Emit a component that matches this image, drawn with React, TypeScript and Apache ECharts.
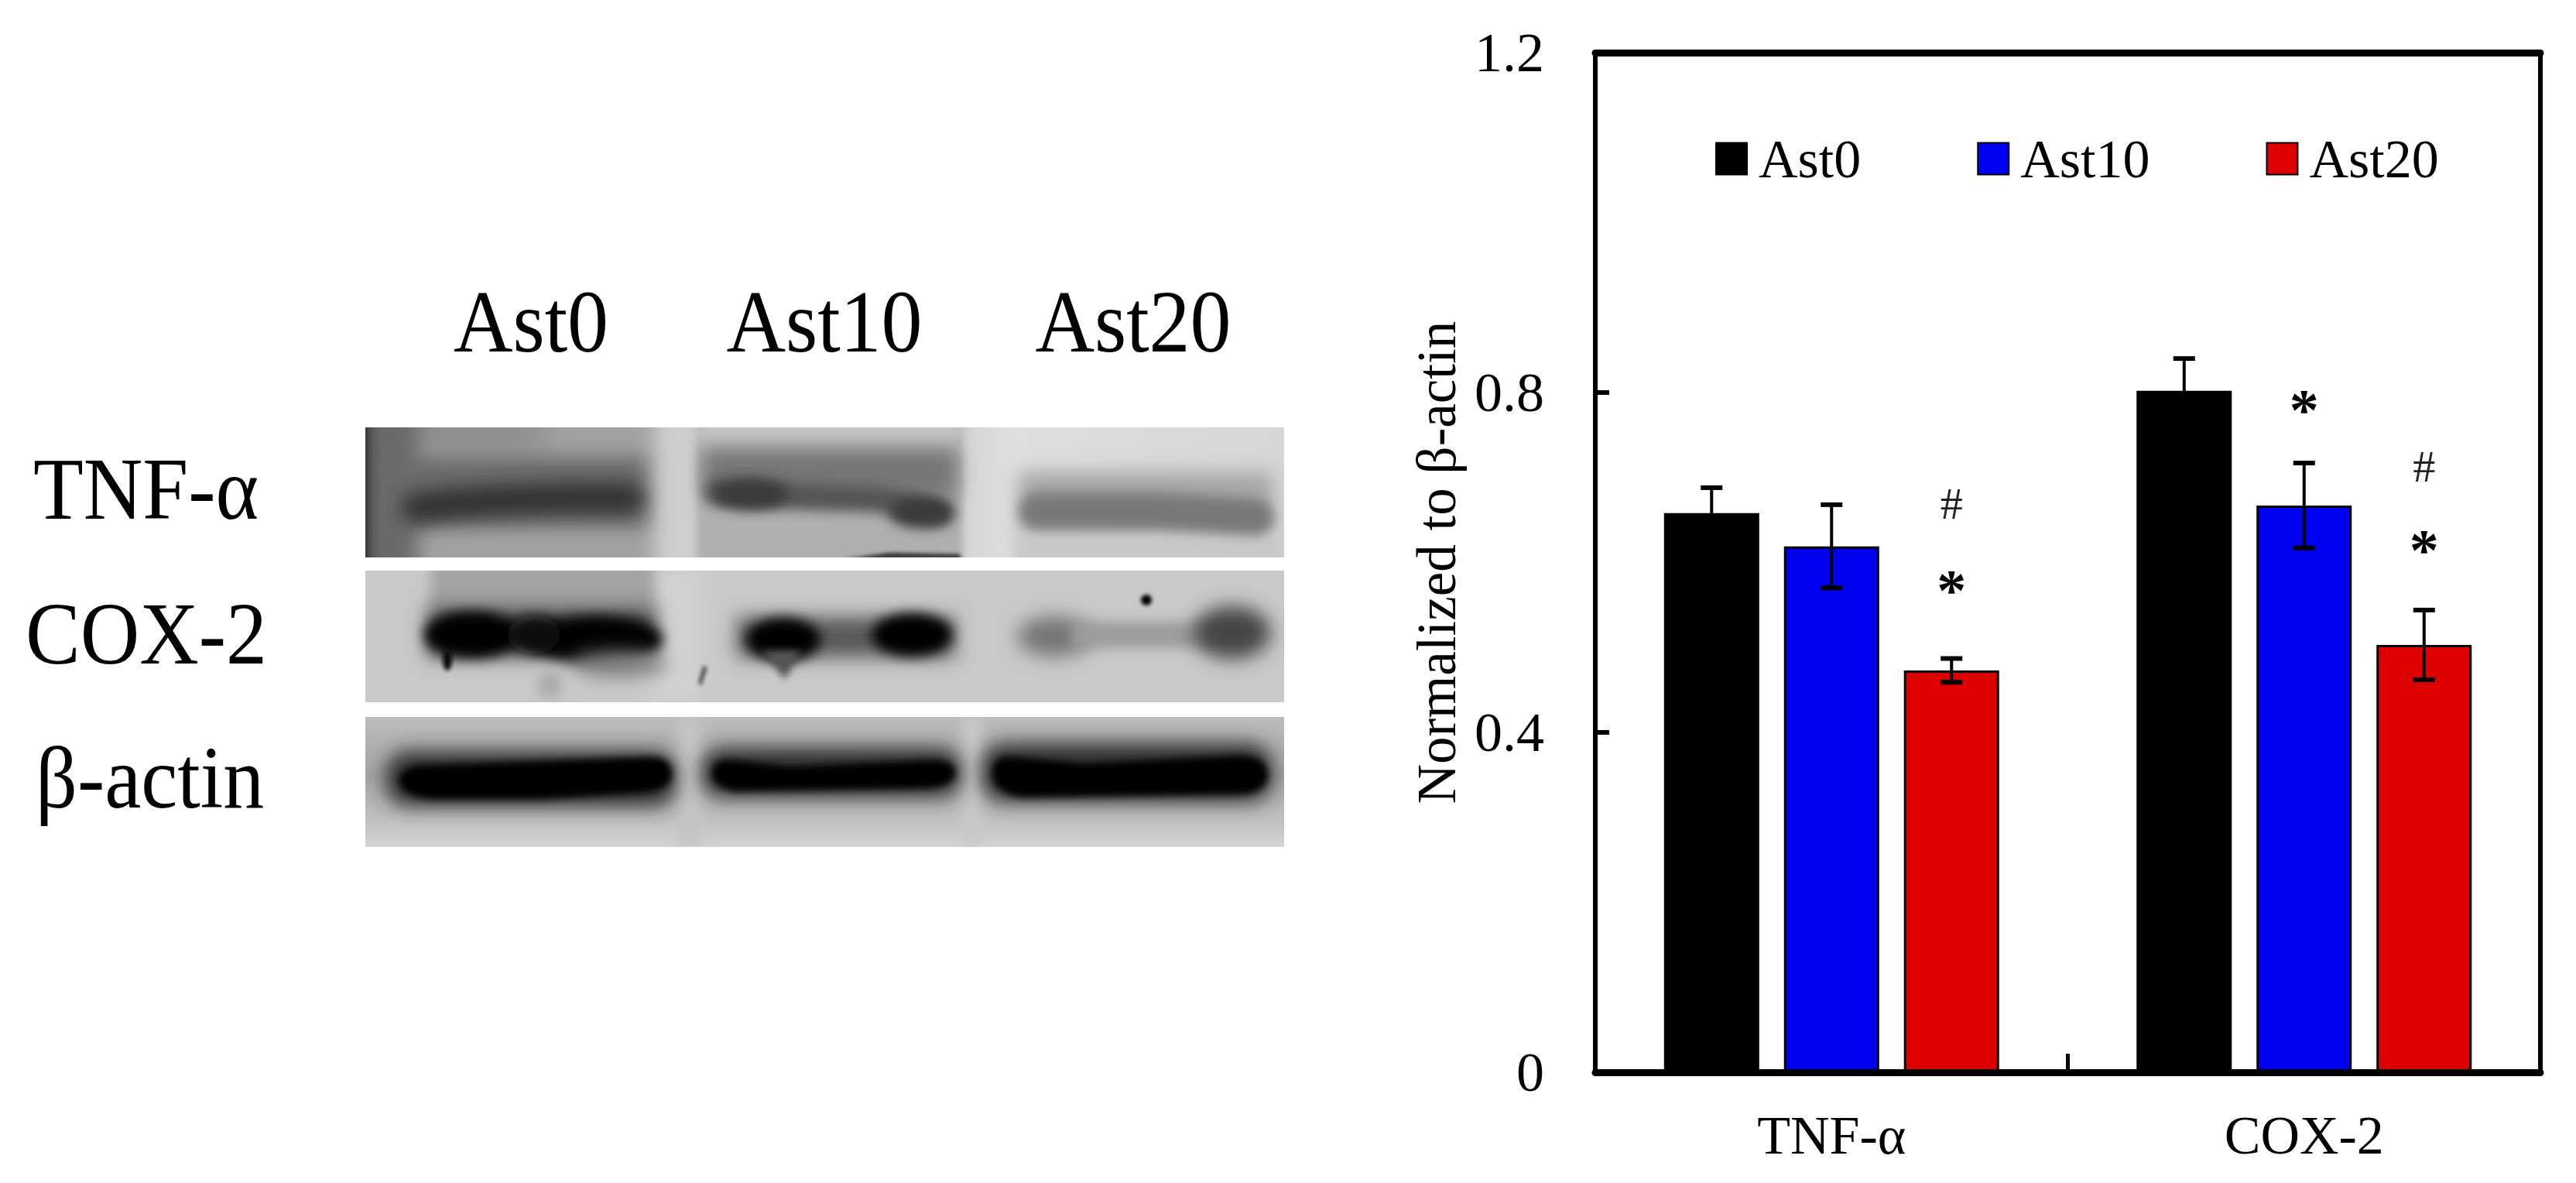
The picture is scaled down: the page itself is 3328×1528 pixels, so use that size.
import React, { useEffect, useRef } from "react";
import * as echarts from "echarts";

const categories = ["TNF-α", "COX-2"];
const seriesNames = ["Ast0", "Ast10", "Ast20"];
const seriesColors = ["#000000", "#0000f0", "#dc0000"];
const ast0Values = [0.658, 0.802];
const ast10Values = [0.619, 0.667];
const ast20Values = [0.473, 0.503];
const ast0Errors = [0.03, 0.038];
const ast10Errors = [0.049, 0.05];
const ast20Errors = [0.014, 0.041];
const yTickLabels = ["0", "0.4", "0.8", "1.2"];
const blotLanes = ["Ast0", "Ast10", "Ast20"];
const blotProteins = ["TNF-α", "COX-2", "β-actin"];
const significance: [number, number, string][] = [
  [0, 0.669, "#"],
  [0, 0.579, "*"],
  [1, 0.791, "*"],
  [1, 0.713, "#"],
  [1, 0.626, "*"],
];

const FONT = '"Liberation Serif", "Times New Roman", serif';
const allValues = [ast0Values, ast10Values, ast20Values];
const allErrors = [ast0Errors, ast10Errors, ast20Errors];

const blur = (id: string, s: number) =>
  `<filter id="${id}" filterUnits="userSpaceOnUse" x="300" y="400" width="1500" height="800"><feGaussianBlur stdDeviation="${s}"/></filter>`;

const blotSvg = `<svg xmlns="http://www.w3.org/2000/svg" width="1187" height="542" viewBox="472 552 1187 542">
<defs>
${blur("b2", 2.5)}${blur("b5", 5)}${blur("b8", 8)}${blur("b12", 12)}${blur("b20", 20)}
<clipPath id="p1"><rect x="472" y="552" width="1187" height="168"/></clipPath>
<clipPath id="p2"><rect x="472" y="737" width="1187" height="170"/></clipPath>
<clipPath id="p3"><rect x="472" y="926" width="1187" height="168"/></clipPath>
<linearGradient id="g3" x1="0" y1="0" x2="0" y2="1"><stop offset="0" stop-color="#bcbcbc"/><stop offset="0.45" stop-color="#a4a4a4"/><stop offset="0.75" stop-color="#bdbdbd"/><stop offset="1" stop-color="#d4d4d4"/></linearGradient>
<linearGradient id="g1" x1="0" y1="0" x2="1" y2="0"><stop offset="0" stop-color="#cacaca"/><stop offset="0.64" stop-color="#d2d2d2"/><stop offset="0.7" stop-color="#dedede"/><stop offset="1" stop-color="#d6d6d6"/></linearGradient>
</defs>
<g clip-path="url(#p1)">
<rect x="472" y="552" width="1187" height="168" fill="url(#g1)"/>
<rect x="430" y="520" width="415" height="230" fill="#a2a2a2" filter="url(#b12)"/>
<rect x="440" y="530" width="260" height="50" fill="#8a8a8a" filter="url(#b20)"/>
<rect x="430" y="510" width="110" height="240" fill="#6a6a6a" filter="url(#b12)"/>
<rect x="430" y="510" width="46" height="240" fill="#222222" filter="url(#b8)"/>
<rect x="510" y="590" width="325" height="90" fill="#6c6c6c" filter="url(#b12)"/>
<path d="M538 656Q640 642 812 644" fill="none" stroke="#333" stroke-width="40" stroke-linecap="round" filter="url(#b12)"/>
<rect x="900" y="520" width="344" height="230" fill="#b0b0b0" filter="url(#b5)"/>
<rect x="900" y="520" width="344" height="52" fill="#c8c8c8" filter="url(#b12)"/>
<rect x="908" y="580" width="328" height="62" fill="#767676" filter="url(#b12)"/>
<path d="M928 636Q1040 642 1125 644Q1180 650 1212 662" fill="none" stroke="#555" stroke-width="34" stroke-linecap="round" filter="url(#b8)"/>
<ellipse cx="970" cy="638" rx="48" ry="20" fill="#3a3a3a" filter="url(#b8)"/>
<ellipse cx="1190" cy="662" rx="42" ry="20" fill="#3a3a3a" filter="url(#b8)"/>
<path d="M1090 722L1150 714L1240 716L1242 722Z" fill="#2e2e2e" filter="url(#b2)"/>
<rect x="1316" y="610" width="328" height="80" fill="#a6a6a6" filter="url(#b12)"/>
<rect x="1310" y="690" width="349" height="40" fill="#c8c8c8" filter="url(#b8)"/>
<path d="M1340 660L1500 660L1622 668" fill="none" stroke="#787878" stroke-width="46" stroke-linecap="round" filter="url(#b8)"/>
</g>
<g clip-path="url(#p2)">
<rect x="472" y="737" width="1187" height="170" fill="#c9c9c9"/>
<rect x="840" y="737" width="65" height="170" fill="#d2d2d2" filter="url(#b12)"/>
<rect x="556" y="720" width="290" height="62" fill="#a4a4a4" filter="url(#b8)"/>
<rect x="552" y="783" width="296" height="66" fill="#484848" filter="url(#b12)"/>
<ellipse cx="610" cy="820" rx="62" ry="30" fill="#000" filter="url(#b8)"/>
<ellipse cx="770" cy="826" rx="86" ry="30" fill="#000" filter="url(#b8)"/>
<ellipse cx="690" cy="820" rx="34" ry="24" fill="#111" filter="url(#b8)"/>
<ellipse cx="578" cy="852" rx="6" ry="14" fill="#111" filter="url(#b2)"/>
<ellipse cx="800" cy="858" rx="62" ry="16" fill="#808080" filter="url(#b12)"/>
<ellipse cx="710" cy="885" rx="16" ry="18" fill="#aaa" filter="url(#b8)"/>
<path d="M902 882L908 860L914 862L906 886Z" fill="#555" filter="url(#b2)"/>
<rect x="952" y="797" width="282" height="52" fill="#585858" filter="url(#b12)"/>
<ellipse cx="1012" cy="826" rx="48" ry="28" fill="#000" filter="url(#b8)"/>
<ellipse cx="1178" cy="820" rx="52" ry="28" fill="#000" filter="url(#b8)"/>
<path d="M985 840L1035 840L1014 878Z" fill="#555" filter="url(#b5)"/>
<ellipse cx="1362" cy="822" rx="48" ry="26" fill="#747474" filter="url(#b12)"/>
<rect x="1385" y="803" width="190" height="34" fill="#9c9c9c" filter="url(#b8)"/>
<ellipse cx="1592" cy="817" rx="50" ry="34" fill="#444" filter="url(#b12)"/>
<circle cx="1481" cy="775" r="7" fill="#000" filter="url(#b2)"/>
</g>
<g clip-path="url(#p3)">
<rect x="472" y="926" width="1187" height="168" fill="url(#g3)"/>
<rect x="875" y="926" width="32" height="168" fill="#c4c4c4" filter="url(#b8)"/>
<rect x="1243" y="926" width="26" height="168" fill="#c8c8c8" filter="url(#b8)"/>
<rect x="498" y="970" width="376" height="72" rx="30" fill="#303030" filter="url(#b12)"/>
<rect x="906" y="966" width="336" height="64" rx="28" fill="#303030" filter="url(#b12)"/>
<rect x="1268" y="960" width="376" height="76" rx="30" fill="#303030" filter="url(#b12)"/>
<path d="M515 1008Q520 986 560 988L840 978Q868 978 868 1000Q868 1020 830 1024L700 1032L560 1032Q520 1030 515 1008Z" fill="#000" filter="url(#b5)"/>
<path d="M920 1000Q920 978 950 982L1020 990L1200 982Q1232 980 1234 998Q1234 1014 1200 1018L950 1022Q920 1016 920 1000Z" fill="#000" filter="url(#b5)"/>
<path d="M1282 1000Q1282 974 1310 978L1400 986L1600 976Q1636 976 1638 1000Q1638 1024 1600 1026L1320 1030Q1284 1024 1282 1000Z" fill="#000" filter="url(#b5)"/>
</g>
</svg>`;
const blotUri = "data:image/svg+xml;charset=utf-8," + encodeURIComponent(blotSvg);

function buildOption() {
  const textG = (text: string, x: number, baseline: number, align: string) => ({
    type: "text",
    silent: true,
    x,
    y: baseline,
    scaleY: 1.07,
    style: { text, x: 0, y: -93, align, verticalAlign: "top", font: `106px ${FONT}`, fill: "#000" },
  });
  const laneX = [686, 1065, 1464];
  const proteinBase = [675, 862, 1048];
  const proteinX = [43, 33, 46];
  const bars = seriesNames.map((name, i) => ({
    name,
    type: "bar",
    barWidth: 123,
    barGap: "26%",
    data: allValues[i],
    z: 2,
    itemStyle: { color: seriesColors[i], borderColor: "#000", borderWidth: 3 },
  }));
  const errors = seriesNames.map((name, i) => ({
    name: name + " error",
    type: "custom",
    z: 3,
    encode: { x: 0, y: [1, 2] },
    data: allValues[i].map((v, c) => [c, v - allErrors[i][c], v + allErrors[i][c]]),
    renderItem: (_: any, api: any) => {
      const offset = (i - 1) * 155;
      const lo = api.coord([api.value(0), api.value(1)]);
      const hi = api.coord([api.value(0), api.value(2)]);
      const x = lo[0] + offset;
      const cap = 14;
      const stem = { stroke: "#000", lineWidth: 4 };
      const capStyle = { stroke: "#000", lineWidth: 6 };
      return {
        type: "group",
        children: [
          { type: "line", shape: { x1: x, y1: lo[1], x2: x, y2: hi[1] }, style: stem },
          { type: "line", shape: { x1: x - cap, y1: hi[1], x2: x + cap, y2: hi[1] }, style: capStyle },
          { type: "line", shape: { x1: x - cap, y1: lo[1], x2: x + cap, y2: lo[1] }, style: capStyle },
        ],
      };
    },
  }));
  const marks = {
    name: "significance",
    type: "custom",
    z: 4,
    encode: { x: 0, y: 1 },
    data: significance.map((s) => [s[0], s[1], s[2]]),
    renderItem: (params: any, api: any) => {
      const row = significance[params.dataIndex];
      const p = api.coord([row[0], row[1]]);
      const isStar = row[2] === "*";
      const seriesOffset = row[0] === 1 && row[1] > 0.75 ? 0 : 155;
      return {
        type: "text",
        style: {
          text: row[2],
          x: p[0] + seriesOffset,
          y: isStar ? p[1] + 12 : p[1],
          align: "center",
          verticalAlign: "middle",
          font: isStar ? `bold 76px ${FONT}` : `58px ${FONT}`,
          fill: isStar ? "#000" : "#222",
        },
      };
    },
  };
  return {
    animation: false,
    backgroundColor: "#fff",
    textStyle: { fontFamily: FONT },
    grid: { show: true, borderColor: "#000", borderWidth: 6, backgroundColor: "transparent", left: 2061, top: 68, right: 46, bottom: 143 },
    legend: {
      show: true,
      data: seriesNames,
      left: 2211,
      top: 165,
      itemWidth: 40,
      itemHeight: 41,
      itemGap: 150,
      icon: "rect",
      selectedMode: false,
      textStyle: { fontFamily: FONT, fontSize: 70, color: "#000", padding: [0, 0, 0, 10] },
    },
    xAxis: [
      {
        type: "category",
        data: categories,
        position: "bottom",
        z: 5,
        axisLine: { show: true, lineStyle: { color: "#000", width: 9 } },
        axisTick: { show: true, inside: true, length: 24, lineStyle: { color: "#000", width: 5 } },
        axisLabel: { fontFamily: FONT, fontSize: 70, color: "#000", margin: 46 },
      },
      {
        type: "category",
        data: categories,
        position: "top",
        z: 5,
        axisLine: { show: true, onZero: false, lineStyle: { color: "#000", width: 9 } },
        axisTick: { show: false },
        axisLabel: { show: false },
      },
    ],
    yAxis: [
      {
        type: "value",
        min: 0,
        max: 1.2,
        interval: 0.4,
        position: "left",
        z: 5,
        name: "Normalized to β-actin",
        nameLocation: "middle",
        nameGap: 170,
        nameTextStyle: { fontFamily: FONT, fontSize: 71, color: "#000" },
        splitLine: { show: false },
        axisLine: { show: true, onZero: false, lineStyle: { color: "#000", width: 6 } },
        axisTick: { show: true, inside: true, length: 18, lineStyle: { color: "#000", width: 6 } },
        axisLabel: {
          fontFamily: FONT,
          fontSize: 72,
          color: "#000",
          margin: 66,
          padding: [0, 0, 6, 0],
          formatter: (v: number) => yTickLabels[Math.round(v / 0.4)],
        },
      },
      {
        type: "value",
        min: 0,
        max: 1.2,
        interval: 0.4,
        position: "right",
        z: 5,
        splitLine: { show: false },
        axisLine: { show: true, onZero: false, lineStyle: { color: "#000", width: 6 } },
        axisTick: { show: false },
        axisLabel: { show: false },
      },
    ],
    series: [...bars, ...errors, marks],
    graphic: [
      { type: "image", silent: true, style: { image: blotUri, x: 472, y: 552, width: 1187, height: 542 } },
      ...blotLanes.map((t, i) => textG(t, laneX[i], 459, "center")),
      ...blotProteins.map((t, i) => textG(t, proteinX[i], proteinBase[i], "left")),
    ],
  };
}

export default function App() {
  const ref = useRef<HTMLDivElement>(null);
  useEffect(() => {
    document.body.style.margin = "0";
    const chart = echarts.init(ref.current!, null, { renderer: "svg" });
    chart.setOption(buildOption() as any);
    return () => chart.dispose();
  }, []);
  return <div ref={ref} style={{ width: 3328, height: 1528, background: "#fff" }} />;
}
